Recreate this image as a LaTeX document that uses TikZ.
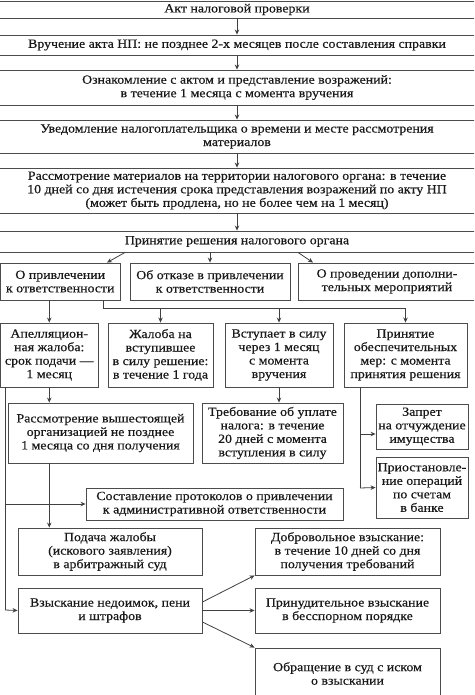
\documentclass[tikz,border=0pt]{standalone}
\usepackage{fontspec}
\setmainfont{Liberation Serif}[FakeStretch=1.11,FakeBold=0.4]
\usetikzlibrary{arrows.meta,calc}
\newcommand\mybox[6]{\node[box, minimum width={#4-(#2)}, minimum height={#5-(#3)}] (#1) at ({(#2+#4)/2},{(#3+#5)/2}) {#6};}
\begin{document}
\begin{tikzpicture}[x=1pt,y=-1pt,
  box/.style={draw=black!70, line width=0.9pt, align=center, inner sep=0pt, text=black!90, font=\fontsize{12.5}{13.5}\selectfont},
  arr/.style={draw=black!75, line width=0.8pt, -{Stealth[length=5pt,width=4.5pt]}},
  ln/.style={draw=black!75, line width=0.8pt}]
\useasboundingbox (0,0) rectangle (474,695);
\clip (0,0) rectangle (474,695);
\fill[white] (0,0) rectangle (474,695);
\mybox{n1}{-5}{1}{479}{18}{Акт налоговой проверки}
\mybox{n2}{-5}{35}{479}{55}{Вручение акта НП: не позднее 2-х месяцев после составления справки}
\mybox{n3}{-5}{70}{479}{105}{Ознакомление с актом и представление возражений:\\в течение 1 месяца с момента вручения}
\mybox{n4}{-5}{120}{479}{153}{Уведомление налогоплательщика о времени и месте рассмотрения\\материалов}
\mybox{n5}{-5}{168}{479}{213}{Рассмотрение материалов на территории налогового органа: в течение\\10 дней со дня истечения срока представления возражений по акту НП\\(может быть продлена, но не более чем на 1 месяц)}
\mybox{n6}{-5}{231}{479}{252}{Принятие решения налогового органа}
\mybox{L1}{0.5}{263}{120}{300}{О привлечении\\к ответственности}
\mybox{L2}{130}{263}{290}{300}{Об отказе в привлечении\\к ответственности}
\mybox{L3}{298}{263}{476}{300}{О проведении дополни-\\тельных мероприятий}
\mybox{A}{0.5}{323}{98}{387}{Апелляцион-\\ная жалоба:\\срок подачи —\\1 месяц}
\mybox{B}{108}{323}{213}{387}{Жалоба на\\вступившее\\в силу решение:\\в течение 1 года}
\mybox{C}{225}{323}{333}{387}{Вступает в силу\\через 1 месяц\\с момента\\вручения}
\mybox{D}{344}{323}{467}{387}{Принятие\\обеспечительных\\мер: с момента\\принятия решения}
\mybox{R1}{8}{403}{193}{463}{Рассмотрение вышестоящей\\организацией не позднее\\1 месяца со дня получения}
\mybox{T}{202}{403}{343}{463}{Требование об уплате\\налога: в течение\\20 дней с момента\\вступления в силу}
\mybox{Z}{376}{404}{468}{449}{Запрет\\на отчуждение\\имущества}
\mybox{P}{376}{457}{468}{518}{Приостановле-\\ние операций\\по счетам\\в банке}
\mybox{S}{86}{488}{343}{520}{Составление протоколов о привлечении\\к административной ответственности}
\mybox{G}{18}{528}{202}{575}{Подача жалобы\\(искового заявления)\\в арбитражный суд}
\mybox{V}{18}{588}{202}{633}{Взыскание недоимок, пени\\и штрафов}
\mybox{Dv}{255}{528}{440}{575}{Добровольное взыскание:\\в течение 10 дней со дня\\получения требований}
\mybox{Pv}{255}{588}{440}{633}{Принудительное взыскание\\в бесспорном порядке}
\mybox{Ov}{255}{648}{440}{699}{Обращение в суд с иском\\о взыскании}
% main chain
\draw[arr] (n1.south -| 237,0) -- (n2.north -| 237,0);
\draw[arr] (n2.south -| 237,0) -- (n3.north -| 237,0);
\draw[arr] (n3.south -| 237,0) -- (n4.north -| 237,0);
\draw[arr] (n4.south -| 237,0) -- (n5.north -| 237,0);
\draw[arr] (n5.south -| 237,0) -- (n6.north -| 237,0);
% decision branches
\draw[arr] (n6.south -| 125,0) -- (L1.north -| 107,0);
\draw[arr] (n6.south -| L2.north) -- (L2.north);
\draw[arr] (n6.south -| 298,0) -- (L3.north -| 313,0);
% from L1
\draw[arr] (L1.south -| A.north) -- (A.north);
\coordinate (b1) at (103,308);
\draw[ln] (L1.south -| b1) -- (b1) -- (b1 -| D.north);
\draw[arr] (b1 -| B.north) -- (B.north);
\draw[arr] (b1 -| C.north) -- (C.north);
\draw[arr] (b1 -| D.north) -- (D.north);
% level 3 -> 4
\draw[arr] (A.south) -- (A.south |- R1.north);
\draw[arr] (C.south) -- (C.south |- T.north);
\coordinate (d1) at (360,488);
\draw[ln] (D.south -| d1) -- (d1);
\draw[arr] (d1 |- 0,434) -- (Z.west |- 0,434);
\draw[arr] (d1) -- (P.west);
% left spine
\coordinate (s1) at (5,610);
\draw[ln] (A.south -| s1) -- (s1);
\draw[arr] (s1) -- (V.west);
\draw[arr] (s1 |- S.west) -- (S.west);
\draw[arr] (R1.south -| A.south) -- (G.north -| A.south);
% recovery
\draw[arr] (V.east |- 0,602) -- (Dv.south west);
\draw[arr] (V.east |- Pv.west) -- (Pv.west);
\draw[arr] (V.east |- 0,622) -- (Ov.north west);
\end{tikzpicture}
\end{document}
